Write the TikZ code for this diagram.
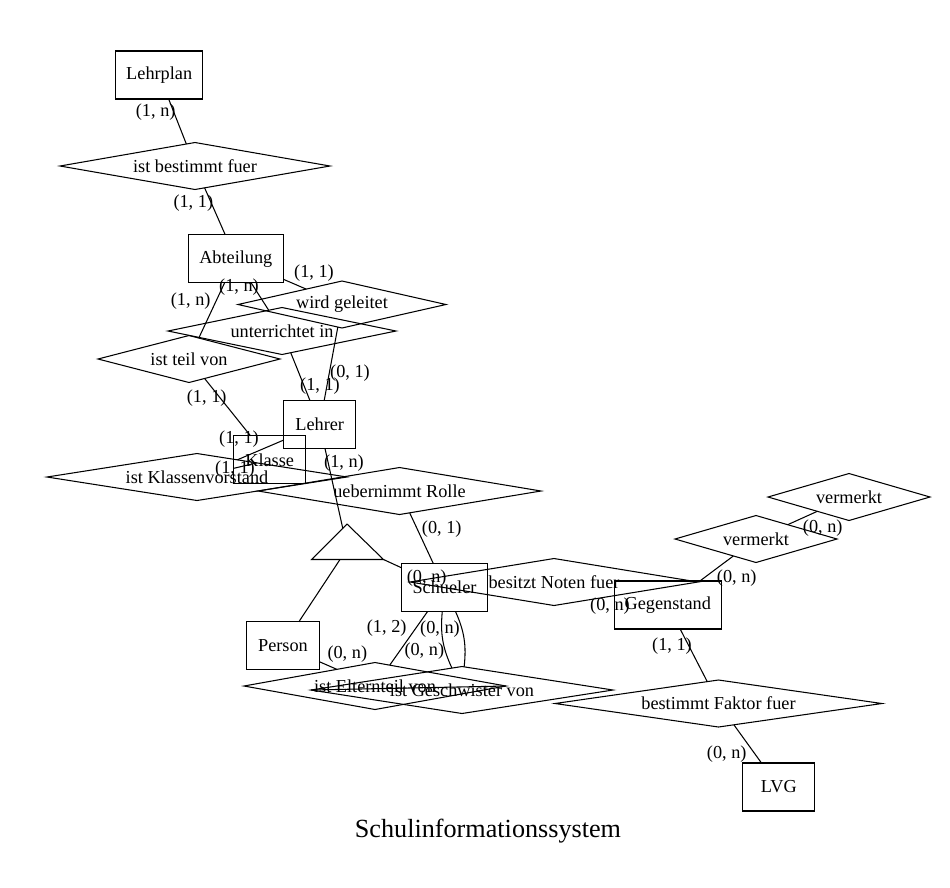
\documentclass[tikz,border=0pt]{standalone}
\usepackage{fontspec}
\setmainfont{Liberation Serif}
\usetikzlibrary{shapes.geometric}

\begin{document}
\begin{tikzpicture}[x=0.02cm, y=-0.02cm, line width=0.6pt,
  entity/.style={draw, rectangle, inner sep=0pt, outer sep=0pt,
    minimum width=1.44cm, minimum height=0.96cm, font=\fontsize{10.4}{12}\selectfont},
  relation/.style={draw, diamond, aspect=5.5, inner sep=0pt, outer sep=0pt,
    minimum height=0.94cm, font=\fontsize{10.4}{12}\selectfont},
  cardlabel/.style={inner sep=0pt, font=\fontsize{10.4}{12}\selectfont}]

% Canvas: pixel grid of the layout, y grows downwards
\useasboundingbox (0,0) rectangle (950,887);

% Entities
\node[entity, minimum width=1.74cm] (lehrplan) at (159.2,75) {Lehrplan};
\node[entity, minimum width=1.9cm] (abteilung) at (235.8,258.8) {Abteilung};
\node[entity] (lehrer) at (319.7,424.7) {Lehrer};
\node[entity] (klasse) at (269.7,459.8) {Klasse};
\node[entity, minimum width=1.71cm] (schueler) at (444.5,587.5) {Schueler};
\node[entity, minimum width=1.45cm] (person) at (283,645.8) {Person};
\node[entity, minimum width=2.14cm] (gegenstand) at (667.8,605) {Gegenstand};
\node[entity] (lvg) at (778.8,787) {LVG};

% Relationships
\node[relation, minimum width=5.4cm] (bestimmt) at (195,166) {ist bestimmt fuer};
\node[relation, minimum width=4.16cm] (geleitet) at (342,304.5) {wird geleitet};
\node[relation, minimum width=4.56cm] (unterrichtet) at (282,331) {unterrichtet in};
\node[relation, minimum width=3.64cm] (teilvon) at (189,359) {ist teil von};
\node[relation, minimum width=6.0cm] (vorstand) at (197,477) {ist Klassenvorstand};
\node[relation, minimum width=5.66cm] (rolle) at (399.5,491) {uebernimmt Rolle};
\node[relation, minimum width=5.76cm] (noten) at (554,582) {besitzt Noten fuer};
\node[relation, minimum width=3.24cm] (vermerkt) at (756,539) {vermerkt};
\node[relation, minimum width=3.24cm] (vermerkttop) at (849,497) {vermerkt};
\node[relation, minimum width=5.24cm] (eltern) at (375,686) {ist Elternteil von};
\node[relation, minimum width=6.04cm] (geschwister) at (462,690) {ist Geschwister von};
\node[relation, minimum width=6.54cm] (faktor) at (718.5,703.5) {bestimmt Faktor fuer};

% ISA triangle
\coordinate (isa apex) at (347,524);
\coordinate (isa left) at (311.7,559.5);
\coordinate (isa right) at (383.5,559.5);
\coordinate (isa top) at (342.8,528.5);
\coordinate (isa base) at (340,559.5);
\draw (isa apex) -- (isa left) -- (isa right) -- cycle;

% Connectors
\draw (lehrplan) -- (bestimmt);
\draw (bestimmt) -- (abteilung);
\draw (abteilung) -- (geleitet);
\draw (abteilung) -- (teilvon);
\draw (abteilung) -- (unterrichtet);
\draw (unterrichtet) -- (lehrer);
\draw (geleitet) -- (lehrer);
\draw (teilvon) -- (klasse);
\draw (lehrer) -- (vorstand);
\draw (klasse) -- (vorstand);
\draw (lehrer) -- (isa top);
\draw (isa right) -- (schueler);
\draw (isa base) -- (person);
\draw (rolle) -- (schueler);
\draw (schueler) -- (eltern);
\draw (person) -- (eltern);
\draw (schueler) to[bend left=15] (geschwister);
\draw (schueler) to[bend right=15] (geschwister);
\draw (geschwister.west) -- (eltern.east);
\draw (gegenstand) -- (vermerkt);
\draw (vermerkt) -- (vermerkttop);
\draw (gegenstand) -- (faktor);
\draw (faktor) -- (lvg);

% Cardinalities
\node[cardlabel] (c1) at (155.7,111.7) {(1, n)};
\node[cardlabel] (c2) at (193.3,202.7) {(1, 1)};
\node[cardlabel] (c3) at (314,273.3) {(1, 1)};
\node[cardlabel] (c4) at (190.7,300.7) {(1, n)};
\node[cardlabel] (c5) at (239,286.7) {(1, n)};
\node[cardlabel] (c6) at (320,385.7) {(1, 1)};
\node[cardlabel] (c7) at (350,373.3) {(0, 1)};
\node[cardlabel] (c8) at (206.7,397.7) {(1, 1)};
\node[cardlabel] (c9) at (239,439.3) {(1, 1)};
\node[cardlabel] (c10) at (235,469.3) {(1, 1)};
\node[cardlabel] (c11) at (344,462.7) {(1, n)};
\node[cardlabel] (c12) at (441.7,529.3) {(0, 1)};
\node[cardlabel] (c13) at (426.7,578.3) {(0, n)};
\node[cardlabel] (c14) at (610,605.7) {(0, n)};
\node[cardlabel] (c15) at (736.7,578.3) {(0, n)};
\node[cardlabel] (c16) at (822.7,528.3) {(0, n)};
\node[cardlabel] (c17) at (386.7,628.3) {(1, 2)};
\node[cardlabel] (c18) at (440,629.3) {(0, n)};
\node[cardlabel] (c19) at (424.3,650.7) {(0, n)};
\node[cardlabel] (c20) at (347.3,654) {(0, n)};
\node[cardlabel] (c21) at (672,645.7) {(1, 1)};
\node[cardlabel] (c22) at (726.7,754) {(0, n)};

% Title
\node[font=\fontsize{14.9}{17}\selectfont] (title) at (488,831) {Schulinformationssystem};

\end{tikzpicture}
\end{document}
